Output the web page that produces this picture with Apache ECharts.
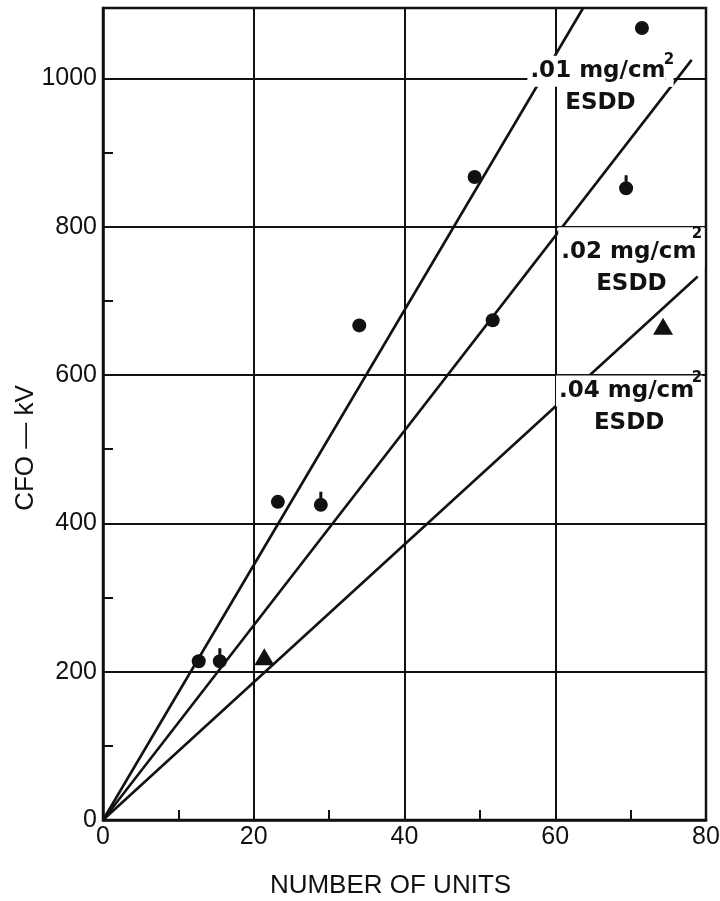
<!DOCTYPE html>
<html>
<head>
<meta charset="utf-8">
<script src="https://cdn.jsdelivr.net/npm/echarts@6/dist/echarts.min.js"></script>
<style>
html,body{margin:0;padding:0;background:#fff;}
#chart{width:720px;height:901px;}
</style>
</head>
<body>
<div id="chart"></div>
<script>
// ---- data ----
const xTicks = [0, 20, 40, 60, 80];
const yTicks = [0, 200, 400, 600, 800, 1000];

// fitted lines, from origin to their drawn end
const line01 = [[0, 0], [63.7, 1095]];
const line02 = [[0, 0], [78.1, 1025]];
const line04 = [[0, 0], [78.9, 733]];

// plotted test points
const dotX = [12.7, 23.2, 34.0, 49.3, 51.7, 71.5];
const dotY = [214, 429, 667, 867, 674, 1068];
const pearX = [15.5, 28.9, 69.4];
const pearY = [214, 425, 852];
const triX = [21.4, 74.3];
const triY = [220, 666];

const labelsText = ['.01 mg/cm', '.02 mg/cm', '.04 mg/cm'];

const zip = (a, b) => a.map((v, i) => [v, b[i]]);

const chart = echarts.init(document.getElementById('chart'), null, {renderer: 'canvas'});

const ink = '#111';
const labelFont = 'DejaVu Sans';

function mainLabel(txt, padTop, bLH) {
  return {
    show: true,
    formatter: '{a|' + txt + '}{sp| }\n{b|ESDD}',
    align: 'center',
    verticalAlign: 'middle',
    rich: {
      a: {fontFamily: labelFont, fontWeight: 'bold', fontSize: 23, color: ink,
          backgroundColor: '#fff', lineHeight: 32, padding: [padTop, 0, 4, 3]},
      sp: {fontFamily: labelFont, fontSize: 23, width: 8, lineHeight: 32,
           backgroundColor: '#fff', padding: [padTop, 0, 4, 0]},
      b: {fontFamily: labelFont, fontWeight: 'bold', fontSize: 23, color: ink, lineHeight: bLH}
    }
  };
}
const supLabel = {
  show: true, formatter: '2', align: 'center', verticalAlign: 'middle',
  fontFamily: labelFont, fontWeight: 'bold', fontSize: 15, color: ink
};

function markLabel(txt, coord, supCoord, padTop, bLH) {
  return {
    symbol: 'rect', symbolSize: 0, silent: true, z: 10,
    data: [
      {coord: coord, label: mainLabel(txt, padTop, bLH)},
      {coord: supCoord, label: supLabel}
    ]
  };
}

const lineStyle = {color: ink, width: 2.6};
const pearPath = 'path://M5.5 0v9h3v-9z M7 6a7 7 0 1 0 0.001 0z';

const axisFont = 'Liberation Sans';

const option = {
  backgroundColor: '#fff',
  animation: false,
  grid: {left: 103, right: 14, top: 8, bottom: 81, show: true, outerBoundsMode: 'none',
         containLabel: false,
         borderColor: ink, borderWidth: 2.5, backgroundColor: 'transparent'},
  xAxis: {
    type: 'value', min: xTicks[0], max: xTicks[xTicks.length - 1], interval: 20,
    name: 'NUMBER OF UNITS', nameLocation: 'middle', nameGap: 53,
    nameTextStyle: {fontFamily: axisFont, fontSize: 26, color: ink, padding: [0, 28, 0, 0]},
    axisLine: {show: true, onZero: false, lineStyle: {color: ink, width: 2.5}},
    axisTick: {show: true, inside: true, length: 10, lineStyle: {color: ink, width: 2}},
    minorTick: {show: true, splitNumber: 2, length: 10, lineStyle: {color: ink, width: 2}},
    axisLabel: {fontFamily: axisFont, fontSize: 25, color: ink, margin: 5},
    splitLine: {show: true, lineStyle: {color: ink, width: 2}}
  },
  yAxis: {
    type: 'value', min: yTicks[0], max: 1095, interval: 200,
    name: 'CFO — kV', nameLocation: 'middle', nameGap: 64, nameRotate: 90,
    nameMoveOverlap: false,
    nameTextStyle: {fontFamily: axisFont, fontSize: 26, color: ink, padding: [0, 68, 0, 0]},
    axisLine: {show: true, onZero: false, lineStyle: {color: ink, width: 2.5}},
    axisTick: {show: true, inside: true, length: 10, lineStyle: {color: ink, width: 2}},
    minorTick: {show: true, splitNumber: 2, length: 10, lineStyle: {color: ink, width: 2}},
    axisLabel: {fontFamily: axisFont, fontSize: 25, color: ink, margin: 6,
                showMaxLabel: false,
                formatter: v => (yTicks.indexOf(v) >= 0 ? String(v) : '')},
    splitLine: {show: true, lineStyle: {color: ink, width: 2}}
  },
  series: [
    {type: 'line', data: line01, showSymbol: false, lineStyle: lineStyle, z: 3,
     markPoint: markLabel(labelsText[0], [66.0, 988], [75.1, 1025], 4, 32)},
    {type: 'line', data: line02, showSymbol: false, lineStyle: lineStyle, z: 3,
     markPoint: markLabel(labelsText[1], [70.1, 744], [78.8, 790], 13, 42)},
    {type: 'line', data: line04, showSymbol: false, lineStyle: lineStyle, z: 3,
     markPoint: markLabel(labelsText[2], [69.8, 557], [78.8, 596], 4, 32)},
    {type: 'scatter', data: zip(dotX, dotY), symbol: 'circle', symbolSize: 14,
     itemStyle: {color: ink, opacity: 1}, z: 4},
    {type: 'scatter', data: zip(pearX, pearY), symbol: pearPath, symbolSize: [14, 20],
     symbolOffset: [0, -3], itemStyle: {color: ink, opacity: 1}, z: 4},
    {type: 'scatter', data: zip(triX, triY), symbol: 'triangle', symbolSize: [20, 17],
     itemStyle: {color: ink, opacity: 1}, z: 4}
  ]
};
chart.setOption(option);
</script>
</body>
</html>
